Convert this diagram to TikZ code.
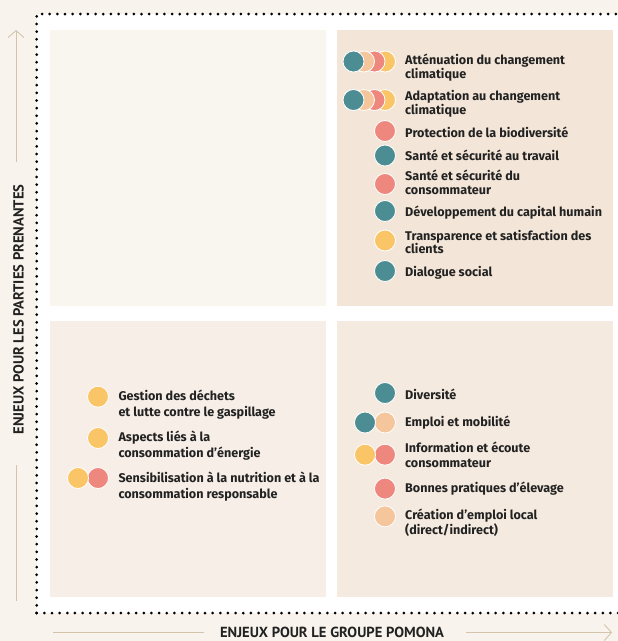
\documentclass[tikz,border=0pt]{standalone}
\usepackage{fontspec}
\setmainfont{Fira Sans}
\newfontfamily\axisfont{PT Sans}
\usetikzlibrary{arrows.meta}

\definecolor{fond}{HTML}{F8F4ED}
\definecolor{qTL}{HTML}{F9F5EF}
\definecolor{qTR}{HTML}{F3E6D8}
\definecolor{qBL}{HTML}{F6EEE7}
\definecolor{qBR}{HTML}{F4EADF}
\definecolor{pteal}{HTML}{4B8D92}
\definecolor{ppeach}{HTML}{F5C59B}
\definecolor{psalmon}{HTML}{EE877D}
\definecolor{pyellow}{HTML}{F9C567}
\definecolor{trait}{HTML}{D5C3AC}
\definecolor{encre}{HTML}{222222}

\tikzset{
  pastille/.style={circle, draw=white, line width=0.8pt, minimum size=21pt, inner sep=0pt},
  enjeu/.style={anchor=base west, align=left, text=encre, inner sep=0pt,
    font=\bfseries\fontsize{12.6}{#1}\selectfont},
  enjeu/.default=13.3,
  axe/.style={text=encre, inner sep=0pt, font=\axisfont\bfseries\fontsize{14.6}{16}\selectfont},
  ligne/.style={draw=trait, line width=0.9pt},
  fleche/.style={ligne, -{Straight Barb[length=7pt,width=16pt]}},
  pointille/.style={line width=3pt, line cap=round, dash pattern=on 0pt off 7.65pt}
}

\begin{document}
\begin{tikzpicture}[x=1pt, y=-1pt]
  \useasboundingbox (0,0) rectangle (618,641);
  \fill[fond] (0,0) rectangle (618,641);
  \fill[white] (36.7,14) rectangle (618,613);
  \draw[pointille] (36.7,613) -- (36.7,14) -- (622,14);
  \draw[pointille] (36.7,613) -- (622,613);

  % quadrants
  \fill[qTL] (50,30) rectangle (326,305.5);
  \fill[qTR] (337,30) rectangle (613,305.5);
  \fill[qBL] (50,320.5) rectangle (326,597);
  \fill[qBR] (337,320.5) rectangle (613,597);

  % haut droite
  \node[pastille, fill=pyellow] (att4) at (385,61.5) {};
  \node[pastille, fill=psalmon] (att3) at (374.5,61.5) {};
  \node[pastille, fill=ppeach] (att2) at (364,61.5) {};
  \node[pastille, fill=pteal] (att1) at (353.5,61.5) {};
  \node[enjeu] (att) at (405,78.1) {Atténuation du changement\\climatique};

  \node[pastille, fill=pyellow] (ada4) at (385,100) {};
  \node[pastille, fill=psalmon] (ada3) at (374.5,100) {};
  \node[pastille, fill=ppeach] (ada2) at (364,100) {};
  \node[pastille, fill=pteal] (ada1) at (353.5,100) {};
  \node[enjeu] (ada) at (405,114) {Adaptation au changement\\climatique};

  \node[pastille, fill=psalmon] (bio1) at (385,131) {};
  \node[enjeu] (bio) at (405,137.1) {Protection de la biodiversité};

  \node[pastille, fill=pteal] (trav1) at (385,155.5) {};
  \node[enjeu] (trav) at (405,160.5) {Santé et sécurité au travail};

  \node[pastille, fill=psalmon] (cons1) at (385,184) {};
  \node[enjeu] (cons) at (405,194.2) {Santé et sécurité du\\consommateur};

  \node[pastille, fill=pteal] (cap1) at (385,211) {};
  \node[enjeu] (cap) at (405,216.3) {Développement du capital humain};

  \node[pastille, fill=pyellow] (cli1) at (385,240.5) {};
  \node[enjeu] (cli) at (405,253.6) {Transparence et satisfaction des\\clients};

  \node[pastille, fill=pteal] (dia1) at (385,271) {};
  \node[enjeu] (dia) at (405,276.3) {Dialogue social};

  % bas gauche
  \node[pastille, fill=pyellow] (dech1) at (98,396.7) {};
  \node[enjeu=15.8] (dech) at (118.3,416.7) {Gestion des déchets\\et lutte contre le gaspillage};

  \node[pastille, fill=pyellow] (ener1) at (98,438) {};
  \node[enjeu=15.8] (ener) at (118.3,457.3) {Aspects liés à la\\consommation d’énergie};

  \node[pastille, fill=psalmon] (nutr2) at (98,478) {};
  \node[pastille, fill=pyellow] (nutr1) at (78,478) {};
  \node[enjeu=15.8] (nutr) at (118.3,498.3) {Sensibilisation à la nutrition et à la\\consommation responsable};

  % bas droite
  \node[pastille, fill=pteal] (div1) at (385,393) {};
  \node[enjeu] (div) at (405,399.8) {Diversité};

  \node[pastille, fill=ppeach] (mob2) at (385,422.5) {};
  \node[pastille, fill=pteal] (mob1) at (365,422.5) {};
  \node[enjeu] (mob) at (405,426) {Emploi et mobilité};

  \node[pastille, fill=psalmon] (info2) at (385,454.7) {};
  \node[pastille, fill=pyellow] (info1) at (365,454.7) {};
  \node[enjeu=15] (info) at (405,467.3) {Information et écoute\\consommateur};

  \node[pastille, fill=psalmon] (elev1) at (385,488.6) {};
  \node[enjeu] (elev) at (405,492.7) {Bonnes pratiques d’élevage};

  \node[pastille, fill=ppeach] (loc1) at (385,516.4) {};
  \node[enjeu=15] (loc) at (405,534) {Création d’emploi local\\(direct/indirect)};

  % axes
  \node[axe, rotate=90] (axeY) at (18.5,309.5) {ENJEUX POUR LES PARTIES PRENANTES};
  \coordinate (yb) at (16,601);
  \coordinate (y1) at (16,465);
  \coordinate (y2) at (16,162);
  \coordinate (yt) at (16,30);
  \draw[ligne] (yb) -- (y1);
  \draw[fleche] (y2) -- (yt);

  \node[axe] (axeX) at (332,632) {ENJEUX POUR LE GROUPE POMONA};
  \coordinate (xg) at (53,632.5);
  \coordinate (x1) at (204,632.5);
  \coordinate (x2) at (466,632.5);
  \coordinate (xd) at (612,632.5);
  \draw[ligne] (xg) -- (x1);
  \draw[fleche] (x2) -- (xd);
\end{tikzpicture}
\end{document}
